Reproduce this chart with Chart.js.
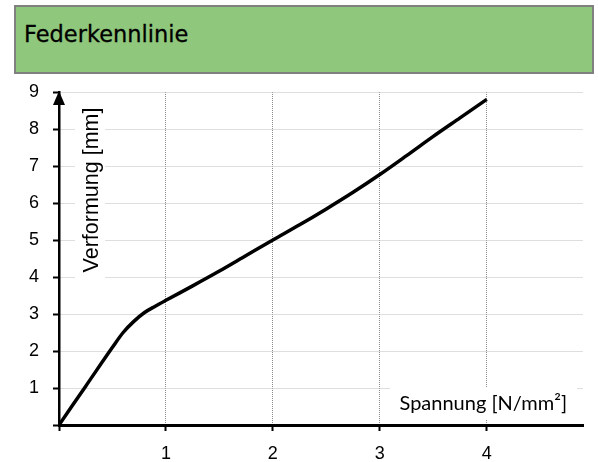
<!DOCTYPE html>
<html>
<head>
<meta charset="utf-8">
<script src="https://cdn.jsdelivr.net/npm/chart.js@4/dist/chart.umd.min.js"></script>
<style>
  html, body { margin: 0; padding: 0; background: #fff; width: 598px; height: 462px; overflow: hidden; }
  #wrap { position: relative; width: 598px; height: 462px; }
  #header {
    position: absolute; left: 14px; top: 5px; width: 580px; height: 69px;
    box-sizing: border-box; border: 2px solid #808080; background: #8fc87c;
    font-family: "DejaVu Sans", sans-serif; font-size: 22.5px; line-height: 26px;
    padding: 14px 0 0 8px; color: #000; -webkit-text-stroke: 0.3px #000;
  }
  canvas { position: absolute; left: 0; top: 0; }
</style>
</head>
<body>
<div id="wrap">
  <canvas id="c" width="598" height="462"></canvas>
  <div id="header">Federkennlinie</div>
</div>
<script>
// Data (Spannung in N/mm², Verformung in mm)
const spannung = [0, 0.25, 0.5, 0.6, 0.7, 0.8, 0.9, 1.0, 1.25, 1.5, 1.75, 2.0, 2.25, 2.5, 2.75, 3.0, 3.25, 3.5, 3.75, 4.0];
const verformung = [0, 1.05, 2.1, 2.5, 2.8, 3.04, 3.21, 3.37, 3.76, 4.16, 4.58, 5.0, 5.41, 5.84, 6.29, 6.77, 7.28, 7.8, 8.3, 8.8];
const xTicks = [0, 1, 2, 3, 4];
const yTicks = [0, 1, 2, 3, 4, 5, 6, 7, 8, 9];
const xTitle = "Spannung [N/mm²]";
const yTitle = "Verformung [mm]";

const points = spannung.map((x, i) => ({ x: x, y: verformung[i] }));

const labelsPlugin = {
  id: 'axisLabels',
  beforeDatasetsDraw(chart) {
    const ctx = chart.ctx;
    const a = chart.chartArea;
    ctx.save();
    // y label (rotated, inside plot, white background)
    ctx.fillStyle = '#fff';
    ctx.fillRect(a.left + 16, a.top + 8, 30, 188);
    ctx.translate(a.left + 33, a.top + 98);
    ctx.rotate(-Math.PI / 2);
    ctx.fillStyle = '#000';
    ctx.font = '21.5px "Liberation Sans", Arial, sans-serif';
    ctx.textAlign = 'center';
    ctx.textBaseline = 'middle';
    ctx.fillText(yTitle, 0, 0);
    ctx.restore();
    // x label (bottom right, white background)
    ctx.save();
    ctx.fillStyle = '#fff';
    ctx.fillRect(a.right - 193, a.bottom - 38, 187, 33);
    ctx.fillStyle = '#000';
    ctx.font = '20px Lato, sans-serif';
    ctx.textAlign = 'right';
    ctx.textBaseline = 'middle';
    ctx.fillText(xTitle, a.right - 16, a.bottom - 21);
    ctx.restore();
  },
  afterDraw(chart) {
    const ctx = chart.ctx;
    const ys = chart.scales.y;
    const xs = chart.scales.x;
    const x0 = xs.getPixelForValue(0);
    const yTop = ys.getPixelForValue(9);
    ctx.save();
    ctx.fillStyle = '#000';
    ctx.beginPath();
    ctx.moveTo(x0, yTop - 1);
    ctx.lineTo(x0 - 6, yTop + 13);
    ctx.lineTo(x0 + 6, yTop + 13);
    ctx.closePath();
    ctx.fill();
    ctx.restore();
  }
};

new Chart(document.getElementById('c'), {
  type: 'line',
  data: {
    datasets: [{
      data: points,
      borderColor: '#000',
      borderWidth: 3.5,
      pointRadius: 0,
      fill: false,
      cubicInterpolationMode: 'monotone'
    }]
  },
  options: {
    responsive: false,
    animation: false,
    events: [],
    layout: { padding: { top: 92, right: 15, left: 0, bottom: 0 } },
    plugins: { legend: { display: false }, tooltip: { enabled: false }, title: { display: false } },
    scales: {
      x: {
        type: 'linear',
        min: 0,
        max: 4.9,
        afterBuildTicks(scale) { scale.ticks = xTicks.map(v => ({ value: v })); },
        afterFit(scale) { scale.height = 37; },
        ticks: {
          autoSkip: false,
          maxRotation: 0,
          color: '#000',
          padding: 12,
          font: { family: '"Liberation Sans", Arial, sans-serif', size: 18 },
          callback: v => (v === 0 ? '' : String(v))
        },
        grid: {
          color: ctx => (ctx.tick && ctx.tick.value === 0 ? 'rgba(0,0,0,0)' : '#8a8a8a'),
          lineWidth: 1,
          tickColor: '#000',
          tickWidth: 2,
          tickLength: 6,
          tickBorderDash: []
        },
        border: { display: true, color: '#000', width: 3, dash: [1, 1] }
      },
      y: {
        type: 'linear',
        min: 0,
        max: 9,
        afterBuildTicks(scale) { scale.ticks = yTicks.map(v => ({ value: v })); },
        afterFit(scale) { scale.width = 59; },
        ticks: {
          autoSkip: false,
          color: '#000',
          padding: 14,
          font: { family: '"Liberation Sans", Arial, sans-serif', size: 18 },
          callback: v => (v === 0 ? '' : String(v))
        },
        grid: {
          color: ctx => (ctx.tick && ctx.tick.value === 0 ? 'rgba(0,0,0,0)' : '#bdbdbd'),
          lineWidth: 1,
          tickColor: '#000',
          tickWidth: 2,
          tickLength: 6,
          tickBorderDash: []
        },
        border: { display: true, color: '#000', width: 2.5, dash: [1, 1] }
      }
    }
  },
  plugins: [labelsPlugin]
});
</script>
</body>
</html>
